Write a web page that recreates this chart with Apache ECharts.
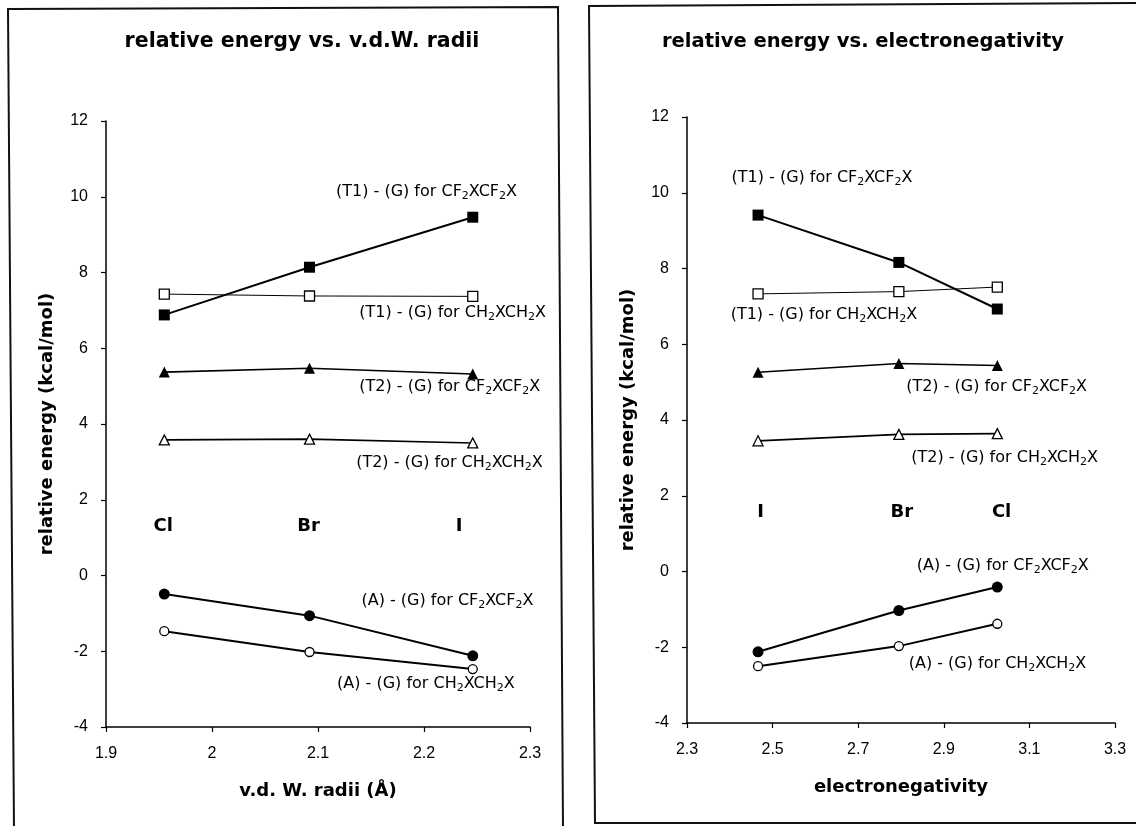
<!DOCTYPE html>
<html>
<head>
<meta charset="utf-8">
<script src="https://cdn.jsdelivr.net/npm/echarts@6/dist/echarts.min.js"></script>
<style>
html,body{margin:0;padding:0;background:#fff;}
#chart{width:1136px;height:826px;}
</style>
</head>
<body>
<div id="chart"></div>
<script>
// ---- data ----
const leftElements = ['Cl', 'Br', 'I'];
const vdwRadii = [1.955, 2.092, 2.246];
const rightElements = ['I', 'Br', 'Cl'];
const electroneg = [2.466, 2.795, 3.025];

const seriesNames = [
  '(T1) - (G) for CF2XCF2X',
  '(T1) - (G) for CH2XCH2X',
  '(T2) - (G) for CF2XCF2X',
  '(T2) - (G) for CH2XCH2X',
  '(A) - (G) for CF2XCF2X',
  '(A) - (G) for CH2XCH2X'
];

// left panel values (Cl, Br, I)
const leftT1CF2 = [6.88, 8.14, 9.46];
const leftT1CH2 = [7.43, 7.38, 7.37];
const leftT2CF2 = [5.37, 5.47, 5.32];
const leftT2CH2 = [3.58, 3.60, 3.50];
const leftACF2 = [-0.49, -1.06, -2.12];
const leftACH2 = [-1.47, -2.02, -2.47];

// right panel values (I, Br, Cl)
const rightT1CF2 = [9.41, 8.16, 6.93];
const rightT1CH2 = [7.33, 7.39, 7.51];
const rightT2CF2 = [5.26, 5.49, 5.44];
const rightT2CH2 = [3.45, 3.62, 3.64];
const rightACF2 = [-2.12, -1.03, -0.41];
const rightACH2 = [-2.50, -1.97, -1.38];

// annotation anchors (data units)
const leftLabelX = [2.117, 2.139, 2.139, 2.136, 2.141, 2.118];
const leftLabelY = [10.13, 6.93, 4.99, 2.97, -0.66, -2.86];
const rightLabelX = [2.404, 2.402, 2.812, 2.824, 2.837, 2.818];
const rightLabelY = [10.4, 6.78, 4.88, 3.01, 0.16, -2.43];
const leftElemX = [1.954, 2.091, 2.233];
const leftElemY = [1.31, 1.31, 1.31];
const rightElemX = [2.472, 2.802, 3.035];
const rightElemY = [1.55, 1.55, 1.55];

const leftXTicks = [1.9, 2.0, 2.1, 2.2, 2.3];
const rightXTicks = [2.3, 2.5, 2.7, 2.9, 3.1, 3.3];

const titles = ['relative energy vs. v.d.W. radii', 'relative energy vs. electronegativity'];
const xNames = ['v.d. W. radii (Å)', 'electronegativity'];
const yName = 'relative energy (kcal/mol)';

// ---- build ----
const FONT = 'Liberation Sans, Arial, sans-serif';
const LBL = 'DejaVu Sans, sans-serif';
const BOLD = 'DejaVu Sans, sans-serif';

const markerStyles = [
  {symbol: 'rect', size: 11, fill: '#000', lw: 2},
  {symbol: 'rect', size: 10, fill: '#fff', lw: 1},
  {symbol: 'triangle', size: 11, fill: '#000', lw: 1.6},
  {symbol: 'triangle', size: 10, fill: '#fff', lw: 1.6},
  {symbol: 'circle', size: 11, fill: '#000', lw: 2},
  {symbol: 'circle', size: 9, fill: '#fff', lw: 2}
];

function richify(s) {
  const parts = s.split(/(?<=[FH])2/);
  return '{n|' + parts.join('}{s|2}{n|') + '}';
}

const leftVals = [leftT1CF2, leftT1CH2, leftT2CF2, leftT2CH2, leftACF2, leftACH2];
const rightVals = [rightT1CF2, rightT1CH2, rightT2CF2, rightT2CH2, rightACF2, rightACH2];

const series = [];
function addPanel(idx, xs, vals, lx, ly, ex, ey, elems) {
  vals.forEach((v, i) => {
    const st = markerStyles[i];
    series.push({
      type: 'line', xAxisIndex: idx, yAxisIndex: idx,
      name: seriesNames[i],
      data: xs.map((x, k) => [x, v[k]]),
      symbol: st.symbol, symbolSize: st.size, showSymbol: true,
      lineStyle: {color: '#000', width: st.lw},
      itemStyle: {color: st.fill, borderColor: '#000', borderWidth: st.fill === '#fff' ? 1.3 : 0},
      animation: false, silent: true
    });
  });
  series.push({
    type: 'scatter', xAxisIndex: idx, yAxisIndex: idx,
    symbolSize: 0, silent: true, animation: false,
    itemStyle: {opacity: 1, color: '#000'},
    data: seriesNames.map((n, i) => ({value: [lx[i], ly[i]], name: n})),
    label: {
      show: true, position: 'right', distance: 0, opacity: 1, color: '#000',
      formatter: p => richify(p.name),
      rich: {
        n: {fontFamily: LBL, fontSize: 16, color: '#000', lineHeight: 20},
        s: {fontFamily: LBL, fontSize: 11, color: '#000', lineHeight: 11, verticalAlign: 'bottom'}
      }
    }
  });
  series.push({
    type: 'scatter', xAxisIndex: idx, yAxisIndex: idx,
    symbolSize: 0, silent: true, animation: false,
    itemStyle: {opacity: 1, color: '#000'},
    data: elems.map((n, i) => ({value: [ex[i], ey[i]], name: n})),
    label: {
      show: true, position: 'inside', formatter: p => p.name, opacity: 1,
      fontFamily: BOLD, fontWeight: 'bold', fontSize: 18, color: '#000'
    }
  });
}
addPanel(0, vdwRadii, leftVals, leftLabelX, leftLabelY, leftElemX, leftElemY, leftElements);
addPanel(1, electroneg, rightVals, rightLabelX, rightLabelY, rightElemX, rightElemY, rightElements);

function xAxisCfg(idx, min, max, ticks, name) {
  return {
    type: 'value', gridIndex: idx, min: min, max: max,
    splitLine: {show: false},
    axisLine: {onZero: false, lineStyle: {color: '#000', width: 1.5}},
    axisTick: {show: true, length: 5, lineStyle: {color: '#000', width: 1.2}, customValues: ticks},
    axisLabel: {customValues: ticks, formatter: v => String(+v.toFixed(1)), fontFamily: FONT, fontSize: 16, color: '#000', margin: 19},
    name: name, nameLocation: 'middle', nameGap: 55,
    nameTextStyle: {fontFamily: BOLD, fontWeight: 'bold', fontSize: 18, color: '#000'}
  };
}
function yAxisCfg(idx) {
  return {
    type: 'value', gridIndex: idx, min: -4, max: 12, interval: 2,
    splitLine: {show: false},
    axisLine: {show: true, onZero: false, lineStyle: {color: '#000', width: 1.5}},
    axisTick: {show: true, length: 5, lineStyle: {color: '#000', width: 1.2}},
    axisLabel: {fontFamily: FONT, fontSize: 16, color: '#000', margin: 18},
    name: yName, nameLocation: 'middle', nameGap: 50,
    nameTextStyle: {fontFamily: BOLD, fontWeight: 'bold', fontSize: 18, color: '#000'}
  };
}

const frameStyle = {fill: 'none', stroke: '#111', lineWidth: 2};
const option = {
  backgroundColor: '#fff',
  animation: false,
  grid: [
    {left: 106, top: 121, width: 424, height: 606},
    {left: 687, top: 117, width: 428, height: 606}
  ],
  xAxis: [
    xAxisCfg(0, 1.9, 2.3, leftXTicks, xNames[0]),
    xAxisCfg(1, 2.3, 3.3, rightXTicks, xNames[1])
  ],
  yAxis: [yAxisCfg(0), yAxisCfg(1)],
  graphic: [
    {type: 'polyline', shape: {points: [[14, 830], [8, 9], [558, 7], [563, 830]]}, style: frameStyle, silent: true},
    {type: 'polyline', shape: {points: [[1140, 3], [589, 6], [595, 823], [1140, 823]]}, style: frameStyle, silent: true},
    {type: 'text', x: 302, y: 42, style: {text: titles[0], align: 'center', verticalAlign: 'middle', font: 'bold 20.5px DejaVu Sans', fill: '#000'}, silent: true},
    {type: 'text', x: 863, y: 42, style: {text: titles[1], align: 'center', verticalAlign: 'middle', font: 'bold 19.5px DejaVu Sans', fill: '#000'}, silent: true}
  ],
  series: series
};

const chart = echarts.init(document.getElementById('chart'), null, {renderer: 'canvas'});
chart.setOption(option);
</script>
</body>
</html>
